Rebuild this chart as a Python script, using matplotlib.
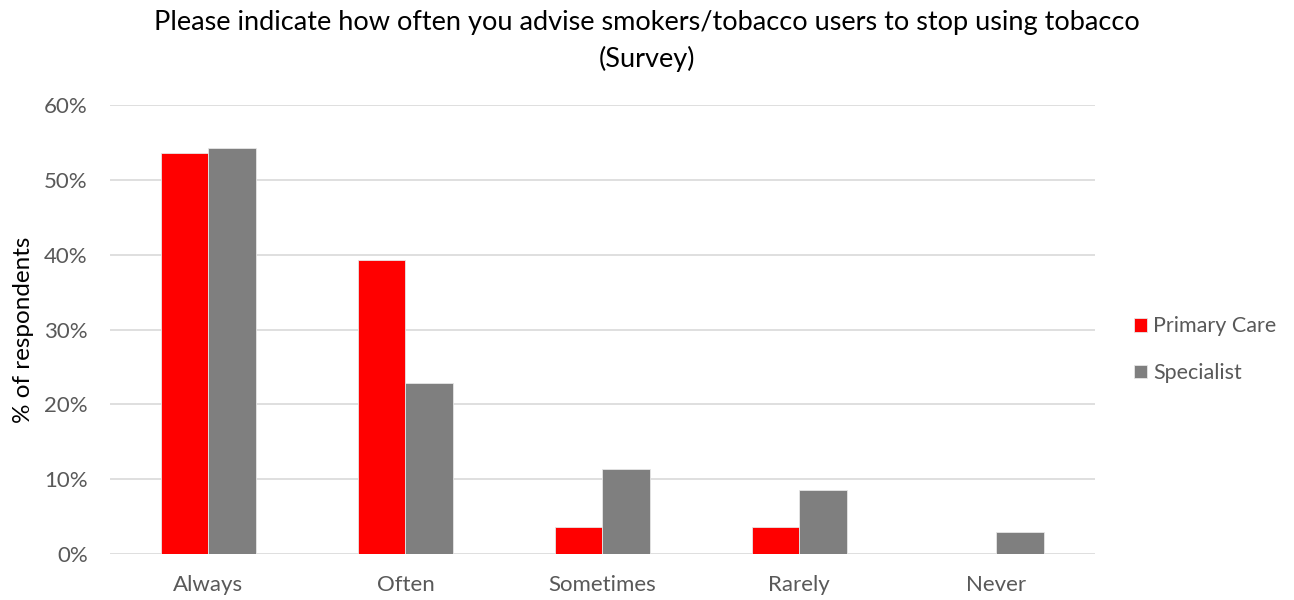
import numpy as np
import matplotlib
matplotlib.use("Agg")
import matplotlib.pyplot as plt
from matplotlib.ticker import PercentFormatter

plt.rcParams['font.family'] = ['Lato', 'DejaVu Sans']

categories = ["Always", "Often", "Sometimes", "Rarely", "Never"]
primary_care = [53.6, 39.3, 3.6, 3.6, 0.0]
specialist = [54.3, 22.9, 11.4, 8.6, 2.9]
series_names = ["Primary Care", "Specialist"]
colors = ["#ff0000", "#7f7f7f"]
title = "Please indicate how often you advise smokers/tobacco users to stop using tobacco\n(Survey)"

fig = plt.figure(figsize=(12.94, 6.0), dpi=100)
ax = fig.add_axes([0.085, 0.0767, 0.761, 0.748])

x = np.arange(len(categories))
w = 0.24
for i, (vals, name) in enumerate(zip([primary_care, specialist], series_names)):
    ax.bar(x + (i - 0.5) * w, vals, width=w, color=colors[i], label=name,
           edgecolor="#e6e6e6", linewidth=0.6, zorder=3)

ax.set_xlim(-0.5, len(categories) - 0.5)
ax.set_ylim(0, 60)
ax.set_yticks(np.arange(0, 61, 10))
ax.yaxis.set_major_formatter(PercentFormatter(decimals=0))
ax.set_xticks(x)
ax.set_xticklabels(categories)
ax.grid(axis="y", color="#d9d9d9", linewidth=1.2, zorder=0)
for s in ["top", "right", "left", "bottom"]:
    ax.spines[s].set_visible(False)
ax.tick_params(axis="both", length=0, labelsize=16, labelcolor="#595959")
ax.tick_params(axis="x", pad=15)
ax.tick_params(axis="y", pad=16)
ax.set_ylabel("% of respondents", fontsize=17.5, color="black", labelpad=7)

fig.suptitle(title, fontsize=19.5, y=0.983, linespacing=1.5)

ax.legend(loc="center left", bbox_to_anchor=(1.02, 0.455), frameon=False,
          fontsize=15.5, labelcolor="#595959", handlelength=0.6, handleheight=0.6,
          handletextpad=0.3, labelspacing=1.25)

fig.savefig("out.png", dpi=100)
